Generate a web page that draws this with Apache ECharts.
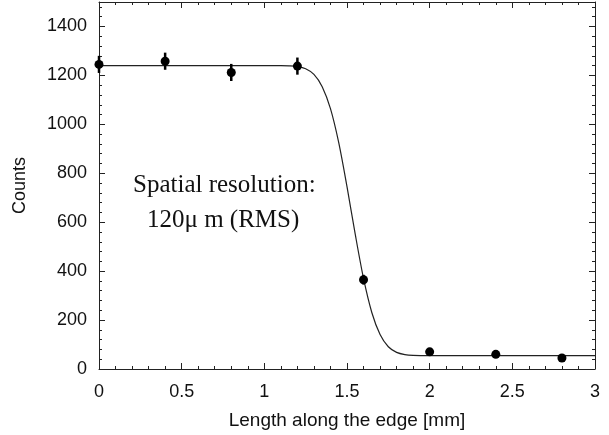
<!DOCTYPE html>
<html><head><meta charset="utf-8">
<script src="https://cdn.jsdelivr.net/npm/echarts@6/dist/echarts.min.js"></script>
<style>html,body{margin:0;padding:0;background:#fff}#c{width:609px;height:435px}</style>
</head><body><div id="c"></div>
<script>
// Measured points
const pointX = [0, 0.4, 0.8, 1.2, 1.6, 2.0, 2.4, 2.8];
const pointY = [1245, 1258, 1212, 1238, 365, 70, 60, 45];
const pointErr = [35, 35, 35, 35, 20, 10, 10, 10];
// Fit curve
const fitX = [0, 1.1, 1.15, 1.2, 1.25, 1.3, 1.35, 1.4, 1.45, 1.5, 1.55, 1.6, 1.65, 1.7, 1.75, 1.8, 1.85, 1.9, 2.0, 3.0];
const fitY = [1240, 1240, 1239, 1236, 1227, 1204, 1154, 1064, 925, 745, 550, 370, 231, 141, 91, 68, 59, 56, 55, 55];
const xTicks = ['0', '0.5', '1', '1.5', '2', '2.5', '3'];
const yTicks = ['0', '200', '400', '600', '800', '1000', '1200', '1400'];
const textLines = ['Spatial resolution:', '120\u03bc m (RMS)'];

const chart = echarts.init(document.getElementById('c'));
const font = 'Liberation Sans, Arial, sans-serif';
const serifStyle = {fontFamily: '"Liberation Serif", "Times New Roman", serif', fontSize: 25, fontWeight: 'normal', color: '#111'};
function ax() {
  return {
    axisLine: {show: true, onZero: false, lineStyle: {color: '#222'}},
    axisTick: {show: true, inside: true, length: 6, lineStyle: {color: '#222', width: 1}},
    minorTick: {show: true, splitNumber: 5, length: 3, lineStyle: {color: '#222', width: 1}},
    splitLine: {show: false}
  };
}
const xBase = {type: 'value', min: 0, max: 3, interval: 0.5};
const yBase = {type: 'value', min: 0, max: 1500, interval: 200};
const option = {
  animation: false,
  title: [
    {text: textLines[0], left: 133, top: 173, padding: 0, textStyle: serifStyle},
    {text: textLines[1], left: 147, top: 208, padding: 0, textStyle: serifStyle}
  ],
  grid: {left: 99, right: 14, top: 2, bottom: 65},
  xAxis: [
    Object.assign(ax(), xBase, {position: 'bottom',
      name: 'Length along the edge [mm]', nameLocation: 'middle', nameGap: 42,
      nameTextStyle: {fontFamily: font, fontSize: 19, color: '#111'},
      axisLabel: {fontFamily: font, fontSize: 18, color: '#111', margin: 14,
        formatter: v => xTicks[Math.round(v / 0.5)] ?? ''}}),
    Object.assign(ax(), xBase, {position: 'top', axisLabel: {show: false}})
  ],
  yAxis: [
    Object.assign(ax(), yBase, {position: 'left',
      name: 'Counts', nameLocation: 'middle', nameGap: 70, nameRotate: 90,
      nameTextStyle: {fontFamily: font, fontSize: 18, color: '#111'},
      axisLabel: {fontFamily: font, fontSize: 18, color: '#111', margin: 12,
        formatter: v => yTicks[Math.round(v / 200)] ?? ''}}),
    Object.assign(ax(), yBase, {position: 'right', axisLabel: {show: false}})
  ],
  series: [
    {type: 'line', data: fitX.map((x, i) => [x, fitY[i]]), smooth: 0.3, showSymbol: false,
      lineStyle: {color: '#222', width: 1.2}, z: 2},
    {type: 'custom', renderItem: (params, api) => {
        const x = api.value(0), y = api.value(1), e = api.value(2);
        const p1 = api.coord([x, y - e]), p2 = api.coord([x, y + e]), c = api.coord([x, y]);
        return {type: 'group', children: [
          {type: 'line', shape: {x1: p1[0], y1: p1[1], x2: p2[0], y2: p2[1]}, style: {stroke: '#000', lineWidth: 2.5}},
          {type: 'circle', shape: {cx: c[0], cy: c[1], r: 4.5}, style: {fill: '#000'}}
        ]};
      },
      data: pointX.map((x, i) => [x, pointY[i], pointErr[i]]), z: 3}
  ]
};
chart.setOption(option);
</script></body></html>
